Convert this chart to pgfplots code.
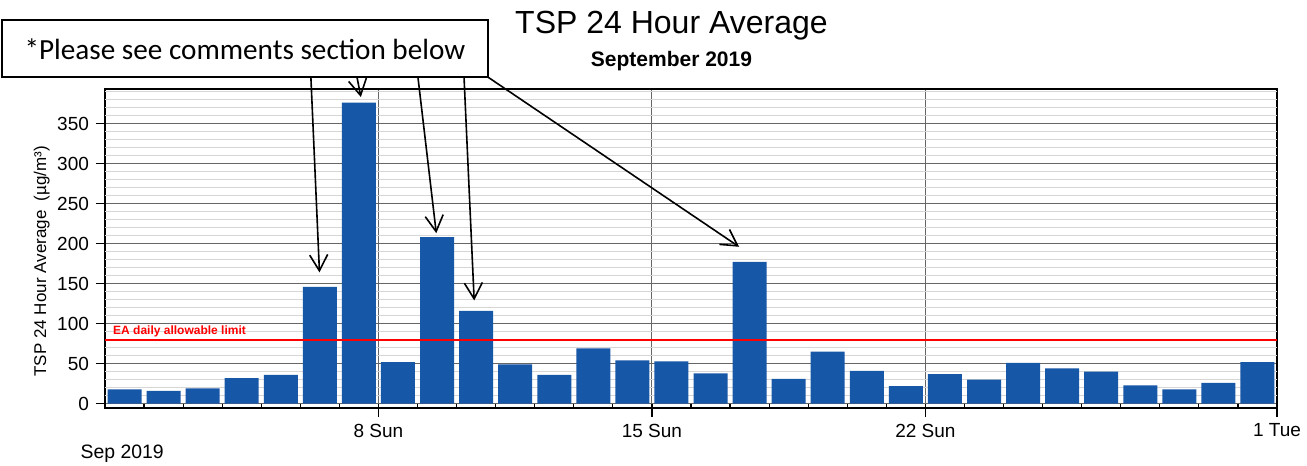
\documentclass[border=0pt]{standalone}
\usepackage{pgfplots}
\pgfplotsset{compat=1.18}
\usepackage{fontspec}
\setmainfont{Liberation Sans}
\newfontfamily\carlito{Carlito}
\usetikzlibrary{arrows.meta}
\definecolor{tspblue}{RGB}{23,87,167}
\begin{document}
\begin{tikzpicture}
\useasboundingbox (-52.5pt,-29.15pt) rectangle (601pt,203.85pt);
\begin{axis}[
  at={(0,0)}, anchor=south west,
  scale only axis, width=586pt, height=159.2pt,
  xmin=0, xmax=30, ymin=-5, ymax=392.7,
  clip=false,
  axis line style={black, line width=0.9pt},
  xtick pos=bottom, ytick pos=left,
  xtick={7,14,21,30}, xticklabels={8 Sun,15 Sun,22 Sun,1 Tue},
  minor xtick={1,...,29},
  ytick={0,50,...,350},
  extra y ticks={10,20,30,40,60,70,80,90,110,120,130,140,160,170,180,190,210,220,230,240,260,270,280,290,310,320,330,340,360,370,380,390},
  extra y tick labels={},
  extra y tick style={grid=major, major grid style={black!16, line width=0.4pt}, major tick length=0pt},
  xmajorgrids, ymajorgrids,
  major grid style={black!60, line width=0.5pt},
  tick align=outside,
  major tick length=4.5pt, minor tick length=2pt,
  every minor tick/.append style={yshift=2pt},
  tick style={black, line width=0.6pt},
  ticklabel style={font=\fontsize{9.5}{11}\selectfont},
  /pgf/number format/assume math mode=true,
  ylabel={TSP 24 Hour Average\ \ (µg/m³)},
  ylabel style={at={(axis description cs:-0.054,0.46)}, anchor=center, font=\fontsize{8.5}{10}\selectfont},
]
\addplot[ybar, bar width=17pt, fill=tspblue, draw=none] coordinates {
(0.5,18) (1.5,16) (2.5,19) (3.5,32) (4.5,36) (5.5,146) (6.5,376) (7.5,52) (8.5,208) (9.5,116)
(10.5,49) (11.5,36) (12.5,69) (13.5,54) (14.5,53) (15.5,38) (16.5,177) (17.5,31) (18.5,65) (19.5,41)
(20.5,22) (21.5,37) (22.5,30) (23.5,51) (24.5,44) (25.5,40) (26.5,23) (27.5,18) (28.5,26) (29.5,52)};
\addplot[red, line width=0.9pt, forget plot] coordinates {(0,80) (30,80)};
\node[anchor=base west, text=red, font=\bfseries\fontsize{6}{7}\selectfont, inner sep=0pt] at (axis cs:0.2,87) {EA daily allowable limit};
\node[font=\fontsize{16}{19}\selectfont] at (axis cs:14.5,472) {TSP 24 Hour Average};
\node[font=\bfseries\fontsize{10.5}{12}\selectfont] at (axis cs:14.5,428) {September 2019};
\node[font=\fontsize{9.7}{11}\selectfont] at (axis cs:0.44,-62) {Sep 2019};
\draw[line width=1pt, fill=white] (axis cs:-2.636,408) rectangle (axis cs:9.80,479.4);
\node[font=\carlito\fontsize{14.6}{17}\selectfont] at (axis cs:3.58,443) {*Please see comments section below};
\draw[line width=0.8pt, -{Straight Barb[length=8pt,width=9pt]}] (axis cs:5.27,408) -- (axis cs:5.49,164);
\draw[line width=0.8pt, -{Straight Barb[length=8pt,width=9pt]}] (axis cs:6.45,408) -- (axis cs:6.55,383);
\draw[line width=0.8pt, -{Straight Barb[length=8pt,width=9pt]}] (axis cs:8.01,408) -- (axis cs:8.48,213);
\draw[line width=0.8pt, -{Straight Barb[length=8pt,width=9pt]}] (axis cs:9.19,408) -- (axis cs:9.45,129);
\draw[line width=0.8pt, -{Straight Barb[length=8pt,width=9pt]}] (axis cs:9.80,408) -- (axis cs:16.23,196);
\end{axis}
\end{tikzpicture}
\end{document}
